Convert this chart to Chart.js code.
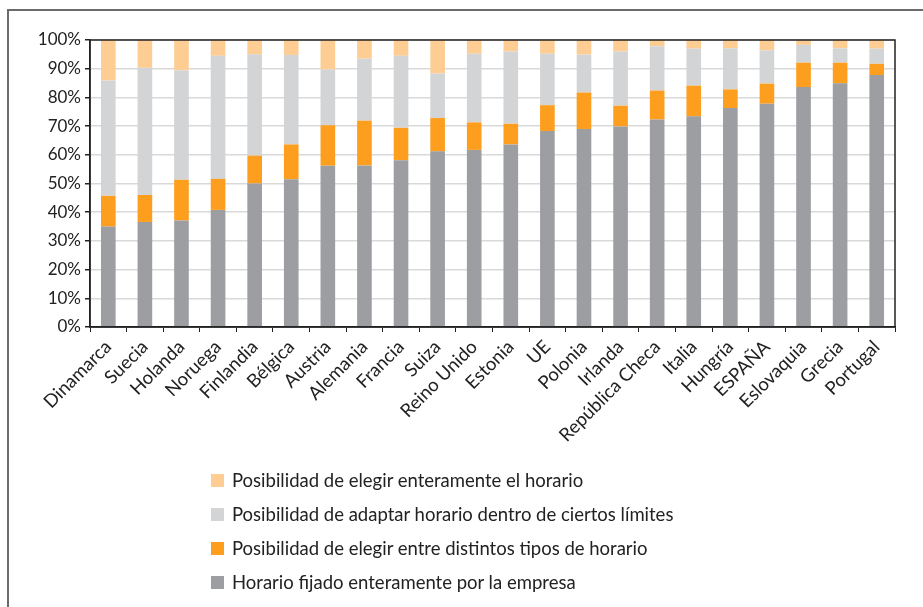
<!DOCTYPE html>
<html>
<head>
<meta charset="utf-8">
<script src="https://cdn.jsdelivr.net/npm/chart.js@4/dist/chart.umd.min.js"></script>
<style>
  html, body { margin: 0; padding: 0; background: #fff; }
  #wrap { position: relative; width: 923px; height: 607px; overflow: hidden; background: #fff; }
  #frame { position: absolute; left: 7px; top: 9px; width: 930px; height: 610px; border-left: 2px solid #6b6b6b; border-top: 2px solid #6b6b6b; box-sizing: border-box; }
  #chartBox { position: absolute; left: 0; top: 0; width: 923px; height: 470px; }
  #legend { position: absolute; left: 211px; top: 463px; font-family: Lato, "Open Sans", sans-serif; font-size: 18.5px; color: #222; }
  .item { display: flex; align-items: center; height: 34px; }
  .sw { width: 13px; height: 13px; margin-right: 8px; }
</style>
</head>
<body>
<div id="wrap">
  <div id="frame"></div>
  <div id="chartBox"><canvas id="c" width="923" height="470"></canvas></div>
  <div id="legend"></div>
</div>
<script>
const categories = ["Dinamarca","Suecia","Holanda","Noruega","Finlandia","Bélgica","Austria","Alemania","Francia","Suiza","Reino Unido","Estonia","UE","Polonia","Irlanda","República Checa","Italia","Hungría","ESPAÑA","Eslovaquia","Grecia","Portugal"];
const fijado   = [35.0,36.6,37.1,40.8,50.0,51.5,56.2,56.3,58.1,61.2,61.7,63.6,68.3,69.0,69.9,72.3,73.4,76.3,77.8,83.6,84.9,87.8];
const tipos    = [10.7, 9.4,14.2,10.8, 9.7,12.1,14.1,15.6,11.3,11.6, 9.6, 7.2, 9.0,12.7, 7.2,10.1,10.7, 6.5, 7.0, 8.5, 7.2, 3.9];
const adaptar  = [40.2,44.3,38.2,42.9,35.3,31.2,19.4,21.6,25.1,15.5,23.9,25.2,17.9,13.2,18.9,15.4,12.9,14.3,11.6, 6.2, 5.0, 5.3];
const entero   = [14.1, 9.7,10.5, 5.5, 5.0, 5.2,10.3, 6.5, 5.5,11.7, 4.8, 4.0, 4.8, 5.1, 4.0, 2.2, 3.0, 2.9, 3.6, 1.7, 2.9, 3.0];
const yTicks = [0,10,20,30,40,50,60,70,80,90,100];
const seriesNames = [
  "Horario fijado enteramente por la empresa",
  "Posibilidad de elegir entre distintos tipos de horario",
  "Posibilidad de adaptar horario dentro de ciertos límites",
  "Posibilidad de elegir enteramente el horario"
];
const colors = ["#9d9ea2", "#fd9e1e", "#d3d4d6", "#fecd94"];
const seriesData = [fijado, tipos, adaptar, entero];

const FONT = "Lato, 'Open Sans', sans-serif";

const frameArea = {
  id: 'frameArea',
  afterDraw(chart) {
    const {ctx, chartArea: a} = chart;
    ctx.save();
    ctx.strokeStyle = '#222';
    ctx.lineWidth = 1.5;
    ctx.strokeRect(a.left, a.top, a.right - a.left, a.bottom - a.top);
    ctx.restore();
  }
};

const chart = new Chart(document.getElementById('c'), {
  type: 'bar',
  data: {
    labels: categories,
    datasets: seriesData.map((d, i) => ({
      label: seriesNames[i],
      data: d,
      backgroundColor: colors[i],
      borderWidth: 0,
      categoryPercentage: 1,
      barPercentage: 0.4
    }))
  },
  options: {
    responsive: false,
    animation: false,
    devicePixelRatio: 1,
    layout: { padding: { left: 0, right: 28, top: 40, bottom: 0 } },
    plugins: { legend: { display: false }, tooltip: { enabled: false } },
    scales: {
      x: {
        stacked: true,
        grid: { display: true, drawOnChartArea: false, drawTicks: true, tickLength: 5, color: '#222', offset: true },
        border: { color: '#222', width: 1.5 },
        ticks: { color: '#222', font: { family: FONT, size: 18.5 }, maxRotation: 45, minRotation: 45, autoSkip: false, padding: 4 },
        afterFit(s) { s.height = 143; }
      },
      y: {
        stacked: true,
        min: 0, max: 100,
        afterBuildTicks(s) { s.ticks = yTicks.map(v => ({ value: v })); },
        grid: { color: '#d9d9d9', lineWidth: 1.5, drawTicks: true, tickLength: 5, tickColor: '#222' },
        border: { color: '#222', width: 1.5 },
        ticks: { color: '#222', font: { family: FONT, size: 17 }, padding: 4, callback: v => v + '%' },
        afterFit(s) { s.width = 90; }
      }
    }
  },
  plugins: [frameArea]
});

const leg = document.getElementById('legend');
chart.data.datasets.slice().reverse().forEach(ds => {
  const row = document.createElement('div');
  row.className = 'item';
  const sw = document.createElement('span');
  sw.className = 'sw';
  sw.style.background = ds.backgroundColor;
  const t = document.createElement('span');
  t.textContent = ds.label;
  row.appendChild(sw); row.appendChild(t);
  leg.appendChild(row);
});
</script>
</body>
</html>
